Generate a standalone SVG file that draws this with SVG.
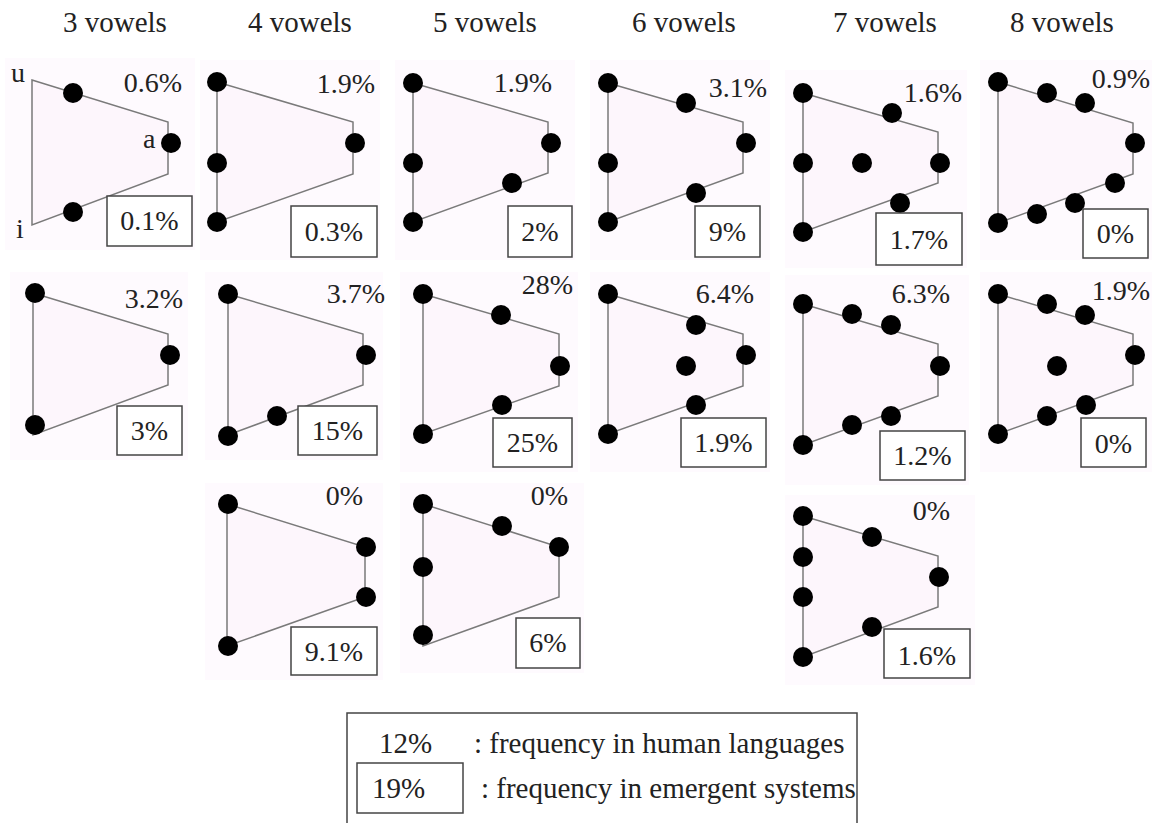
<svg xmlns="http://www.w3.org/2000/svg" width="1156" height="823" viewBox="0 0 1156 823">
<style>
text{font-family:"Liberation Serif","Times New Roman",serif;fill:#222}
.t{font-size:29px}
.p{font-size:28px}
.pe{font-size:28px;text-anchor:end}
.pm{font-size:28px;text-anchor:middle}
.bg{fill:#fefafe;stroke:none}
.tr{fill:#fdf6fc;stroke:#7a7a7a;stroke-width:1.5}
.bx{fill:#fff;stroke:#444;stroke-width:1.5}
.d{fill:#000}
</style>
<rect width="1156" height="823" fill="#fff"/>
<g id="titles">
<text class="t" x="63" y="32">3 vowels</text>
<text class="t" x="248" y="32">4 vowels</text>
<text class="t" x="433" y="32">5 vowels</text>
<text class="t" x="632" y="32">6 vowels</text>
<text class="t" x="833" y="32">7 vowels</text>
<text class="t" x="1010" y="32">8 vowels</text>
</g>
<g id="connectors"></g>

<g id="p3a">
<rect class="bg" x="5" y="58" width="190" height="192"/>
<polygon class="tr" points="32,80 168,122 168,174 32,225"/>
<circle class="d" cx="73" cy="93" r="10"/><circle class="d" cx="171" cy="143" r="10"/><circle class="d" cx="73" cy="212" r="10"/>
<text class="p" x="11" y="82">u</text><text class="p" x="143" y="148">a</text><text class="p" x="16" y="238">i</text>
<text class="pe" x="182" y="92">0.6%</text>
<rect class="bx" x="107" y="196" width="85" height="50"/><text class="pm" x="149.5" y="230">0.1%</text>
</g>
<g id="p4a">
<rect class="bg" x="200" y="60" width="180" height="200"/>
<polygon class="tr" points="217,82 353,122 353,174 217,222"/>
<circle class="d" cx="217" cy="82" r="10"/><circle class="d" cx="217" cy="163" r="10"/><circle class="d" cx="217" cy="222" r="10"/><circle class="d" cx="355" cy="143" r="10"/>
<text class="pe" x="375" y="93">1.9%</text>
<rect class="bx" x="291" y="206" width="86" height="51"/><text class="pm" x="334" y="241">0.3%</text>
</g>
<g id="p5a">
<rect class="bg" x="395" y="60" width="180" height="200"/>
<polygon class="tr" points="413,83 548,122 548,173 413,222"/>
<circle class="d" cx="413" cy="83" r="10"/><circle class="d" cx="413" cy="163" r="10"/><circle class="d" cx="413" cy="222" r="10"/><circle class="d" cx="551" cy="143" r="10"/><circle class="d" cx="512" cy="183" r="10"/>
<text class="pe" x="552" y="92">1.9%</text>
<rect class="bx" x="508" y="206" width="64" height="51"/><text class="pm" x="540" y="241">2%</text>
</g>
<g id="p6a">
<rect class="bg" x="590" y="60" width="180" height="200"/>
<polygon class="tr" points="608,83 743,122 743,173 608,222"/>
<circle class="d" cx="608" cy="83" r="10"/><circle class="d" cx="686" cy="103" r="10"/><circle class="d" cx="746" cy="143" r="10"/><circle class="d" cx="608" cy="163" r="10"/><circle class="d" cx="696" cy="193" r="10"/><circle class="d" cx="608" cy="222" r="10"/>
<text class="pe" x="767" y="97">3.1%</text>
<rect class="bx" x="695" y="206" width="65" height="51"/><text class="pm" x="727.5" y="241">9%</text>
</g>
<g id="p7a">
<rect class="bg" x="785" y="70" width="182" height="198"/>
<polygon class="tr" points="803,93 938,132 938,183 803,232"/>
<circle class="d" cx="803" cy="93" r="10"/><circle class="d" cx="892" cy="113" r="10"/><circle class="d" cx="803" cy="163" r="10"/><circle class="d" cx="862" cy="163" r="10"/><circle class="d" cx="940" cy="163" r="10"/><circle class="d" cx="900" cy="203" r="10"/><circle class="d" cx="803" cy="232" r="10"/>
<text class="pe" x="962" y="102">1.6%</text>
<rect class="bx" x="876" y="213" width="86" height="52"/><text class="pm" x="919" y="249">1.7%</text>
</g>
<g id="p8a">
<rect class="bg" x="980" y="60" width="172" height="200"/>
<polygon class="tr" points="998,82 1133,123 1133,174 998,223"/>
<circle class="d" cx="998" cy="82" r="10"/><circle class="d" cx="1047" cy="93" r="10"/><circle class="d" cx="1085" cy="103" r="10"/><circle class="d" cx="1135" cy="143" r="10"/><circle class="d" cx="1115" cy="183" r="10"/><circle class="d" cx="1075" cy="203" r="10"/><circle class="d" cx="1037" cy="214" r="10"/><circle class="d" cx="998" cy="223" r="10"/>
<text class="pe" x="1150" y="88">0.9%</text>
<rect class="bx" x="1083" y="209" width="65" height="49"/><text class="pm" x="1115.5" y="243">0%</text>
</g>

<g id="p3b">
<rect class="bg" x="10" y="272" width="178" height="188"/>
<polygon class="tr" points="33,293 168,334 168,385 33,435"/>
<circle class="d" cx="35" cy="293" r="10"/><circle class="d" cx="170" cy="355" r="10"/><circle class="d" cx="35" cy="425" r="10"/>
<text class="pe" x="183" y="308">3.2%</text>
<rect class="bx" x="117" y="406" width="65" height="49"/><text class="pm" x="149.5" y="440">3%</text>
</g>
<g id="p4b">
<rect class="bg" x="205" y="272" width="178" height="188"/>
<polygon class="tr" points="228,294 363,334 363,385 228,435"/>
<circle class="d" cx="228" cy="294" r="10"/><circle class="d" cx="366" cy="355" r="10"/><circle class="d" cx="277" cy="416" r="10"/><circle class="d" cx="228" cy="436" r="10"/>
<text class="pe" x="385" y="303">3.7%</text>
<rect class="bx" x="298" y="406" width="79" height="49"/><text class="pm" x="337.5" y="440">15%</text>
</g>
<g id="p5b">
<rect class="bg" x="400" y="272" width="178" height="200"/>
<polygon class="tr" points="423,294 559,334 559,386 423,434"/>
<circle class="d" cx="423" cy="294" r="10"/><circle class="d" cx="501" cy="315" r="10"/><circle class="d" cx="560" cy="366" r="10"/><circle class="d" cx="502" cy="405" r="10"/><circle class="d" cx="423" cy="434" r="10"/>
<text class="pe" x="573" y="294">28%</text>
<rect class="bx" x="493" y="418" width="79" height="49"/><text class="pm" x="532.5" y="452">25%</text>
</g>
<g id="p6b">
<rect class="bg" x="590" y="272" width="180" height="200"/>
<polygon class="tr" points="608,294 743,334 743,386 608,434"/>
<circle class="d" cx="608" cy="294" r="10"/><circle class="d" cx="696" cy="325" r="10"/><circle class="d" cx="746" cy="355" r="10"/><circle class="d" cx="686" cy="366" r="10"/><circle class="d" cx="696" cy="405" r="10"/><circle class="d" cx="608" cy="434" r="10"/>
<text class="pe" x="754" y="303">6.4%</text>
<rect class="bx" x="681" y="418" width="85" height="49"/><text class="pm" x="723.5" y="452">1.9%</text>
</g>
<g id="p7b">
<rect class="bg" x="785" y="275" width="184" height="210"/>
<polygon class="tr" points="803,304 938,344 938,396 803,445"/>
<circle class="d" cx="803" cy="304" r="10"/><circle class="d" cx="852" cy="314" r="10"/><circle class="d" cx="891" cy="325" r="10"/><circle class="d" cx="940" cy="366" r="10"/><circle class="d" cx="891" cy="416" r="10"/><circle class="d" cx="852" cy="425" r="10"/><circle class="d" cx="803" cy="445" r="10"/>
<text class="pe" x="950" y="303">6.3%</text>
<rect class="bx" x="880" y="431" width="85" height="49"/><text class="pm" x="922.5" y="465">1.2%</text>
</g>
<g id="p8b">
<rect class="bg" x="980" y="272" width="172" height="200"/>
<polygon class="tr" points="998,294 1133,334 1133,385 998,434"/>
<circle class="d" cx="998" cy="294" r="10"/><circle class="d" cx="1047" cy="304" r="10"/><circle class="d" cx="1085" cy="315" r="10"/><circle class="d" cx="1135" cy="355" r="10"/><circle class="d" cx="1057" cy="366" r="10"/><circle class="d" cx="1086" cy="405" r="10"/><circle class="d" cx="1047" cy="416" r="10"/><circle class="d" cx="998" cy="434" r="10"/>
<text class="pe" x="1150" y="300">1.9%</text>
<rect class="bx" x="1081" y="418" width="65" height="49"/><text class="pm" x="1113.5" y="453">0%</text>
</g>

<g id="p4c">
<rect class="bg" x="205" y="483" width="178" height="197"/>
<polygon class="tr" points="227,504 365,547 365,597 227,646"/>
<circle class="d" cx="228" cy="504" r="10"/><circle class="d" cx="366" cy="547" r="10"/><circle class="d" cx="366" cy="597" r="10"/><circle class="d" cx="228" cy="646" r="10"/>
<text class="pe" x="363" y="505">0%</text>
<rect class="bx" x="291" y="627" width="86" height="48"/><text class="pm" x="334" y="661">9.1%</text>
</g>
<g id="p5c">
<rect class="bg" x="400" y="483" width="184" height="190"/>
<polygon class="tr" points="423,504 559,547 559,597 423,646"/>
<circle class="d" cx="423" cy="504" r="10"/><circle class="d" cx="502" cy="526" r="10"/><circle class="d" cx="559" cy="547" r="10"/><circle class="d" cx="423" cy="567" r="10"/><circle class="d" cx="423" cy="635" r="10"/>
<text class="pe" x="568" y="505">0%</text>
<rect class="bx" x="516" y="618" width="64" height="50"/><text class="pm" x="548" y="652">6%</text>
</g>
<g id="p7c">
<rect class="bg" x="785" y="495" width="190" height="190"/>
<polygon class="tr" points="803,516 938,556 938,607 803,657"/>
<circle class="d" cx="803" cy="516" r="10"/><circle class="d" cx="872" cy="537" r="10"/><circle class="d" cx="803" cy="557" r="10"/><circle class="d" cx="803" cy="597" r="10"/><circle class="d" cx="939" cy="577" r="10"/><circle class="d" cx="872" cy="627" r="10"/><circle class="d" cx="803" cy="657" r="10"/>
<text class="pe" x="950" y="520">0%</text>
<rect class="bx" x="884" y="629" width="86" height="49"/><text class="pm" x="927" y="665">1.6%</text>
</g>

<g id="legend">
<rect x="347" y="713" width="510" height="130" fill="#fff" stroke="#444" stroke-width="1.5"/>
<text class="t" x="379" y="753">12%</text>
<text class="t" x="474" y="753">: frequency in human languages</text>
<rect class="bx" x="357" y="763" width="106" height="50"/>
<text class="t" x="372" y="798">19%</text>
<text class="t" x="481" y="798">: frequency in emergent systems</text>
</g>
</svg>
